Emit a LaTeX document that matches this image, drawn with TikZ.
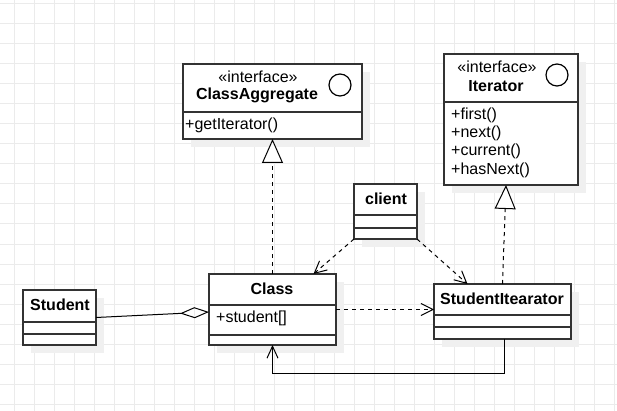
\documentclass[tikz,border=0pt]{standalone}
\usepackage{fontspec}
\setmainfont{Liberation Sans}
\usepackage{tikz}
\usetikzlibrary{arrows.meta, calc}
\usetikzlibrary{shadows}
\definecolor{myline}{RGB}{51, 51, 51}
\definecolor{mygrid}{RGB}{235, 235, 235}
\definecolor{myshadow}{RGB}{240, 240, 240}
\tikzstyle{umlbox} = [draw=myline, line width=1.3, fill=white, inner sep=0,
    outer sep=0, drop shadow={shadow xshift=8pt, shadow yshift=-8pt,
    fill=myshadow, opacity=1}]
\tikzstyle{title} = [font=\fontsize{16}{19}\selectfont\bfseries, inner sep=0]
\tikzstyle{label} = [font=\fontsize{16}{19}\selectfont, inner sep=0]
\tikzstyle{member} = [font=\fontsize{16}{19}\selectfont, inner sep=0, anchor=west]
\tikzstyle{dep} = [draw=black, line width=1, dash pattern=on 4pt off 4pt,
    -{Straight Barb[length=12pt, width=12pt]}]
\tikzstyle{realize} = [draw=black, line width=1, dash pattern=on 4pt off 4pt,
    -{Triangle[open, length=24pt, width=21pt, fill=white]}]

\begin{document}
\begin{tikzpicture}[x=1pt, y=-1pt]

    % 0. Grid paper
    \useasboundingbox (0,0) rectangle (617,411);
    \fill[white] (0,0) rectangle (617,411);
    \foreach \gx in {14,34,...,614} \draw[mygrid, line width=1] (\gx,0) -- (\gx,411);
    \foreach \gy in {4,24,...,404} \draw[mygrid, line width=1] (0,\gy) -- (617,\gy);

    % 1. Place the interfaces
    \node[umlbox, minimum width=179, minimum height=75] (agg) at (272.5,101.5) {};
    \draw[myline, line width=1.3] (183,112) -- (362,112);
    \node[label] (aggst) at (258,77) {«interface»};
    \node[title] (aggname) at (257,95) {ClassAggregate};
    \draw[black, line width=1.2] (340,85) circle (11);
    \node[member] (aggm) at (185,125) {+getIterator()};

    \node[umlbox, minimum width=134, minimum height=131] (iter) at (511,119.5) {};
    \draw[myline, line width=1.3] (444,102) -- (578,102);
    \node[label] (iterst) at (497,67) {«interface»};
    \node[title] (itername) at (496,86) {Iterator};
    \draw[black, line width=1.2] (557,75) circle (11);
    \node[member] (iterm1) at (451,115) {+first()};
    \node[member] (iterm2) at (451,133.3) {+next()};
    \node[member] (iterm3) at (451,151.6) {+current()};
    \node[member] (iterm4) at (451,170) {+hasNext()};

    % 2. Place the classes
    \node[umlbox, minimum width=63, minimum height=55] (client) at (385.5,211.5) {};
    \draw[myline, line width=1.3] (354,215) -- (417,215);
    \draw[myline, line width=1.3] (354,228) -- (417,228);
    \node[title] (clientname) at (386,199) {client};

    \node[umlbox, minimum width=127, minimum height=71] (class) at (272.5,309.5) {};
    \draw[myline, line width=1.3] (209,305) -- (336,305);
    \draw[myline, line width=1.3] (209,335) -- (336,335);
    \node[title] (classname) at (272,289) {Class};
    \node[member] (classm) at (216,318) {+student[]};

    \node[umlbox, minimum width=73, minimum height=55] (student) at (59.5,317.5) {};
    \draw[myline, line width=1.3] (23,322) -- (96,322);
    \draw[myline, line width=1.3] (23,334) -- (96,334);
    \node[title] (studentname) at (60,305) {Student};

    \node[umlbox, minimum width=137, minimum height=55] (studit) at (502.5,311.5) {};
    \draw[myline, line width=1.3] (434,315) -- (571,315);
    \draw[myline, line width=1.3] (434,327) -- (571,327);
    \node[title] (studitname) at (502,299) {StudentItearator};

    % 3. Draw connections
    \draw[realize] (class.north) -- (agg.south);
    \draw[realize] (studit.north) -- ($(iter.south)+(-5,0)$);
    \draw[dep] (client.south west) -- ($(class.north)+(41,0)$);
    \draw[dep] (client.south east) -- ($(studit.north)+(-35,0)$);
    \draw[dep] (class.east) -- (class.east -| studit.west);
    \draw[line width=1, -{Diamond[open, length=29pt, width=11pt]}]
        (student.east) -- ($(class.west)+(0,2.5)$);
    \draw[line width=1, -{Straight Barb[length=12pt, width=11pt]}]
        ($(studit.south)+(1.5,0)$) -- ++(0,34) -| (class.south);

\end{tikzpicture}
\end{document}
